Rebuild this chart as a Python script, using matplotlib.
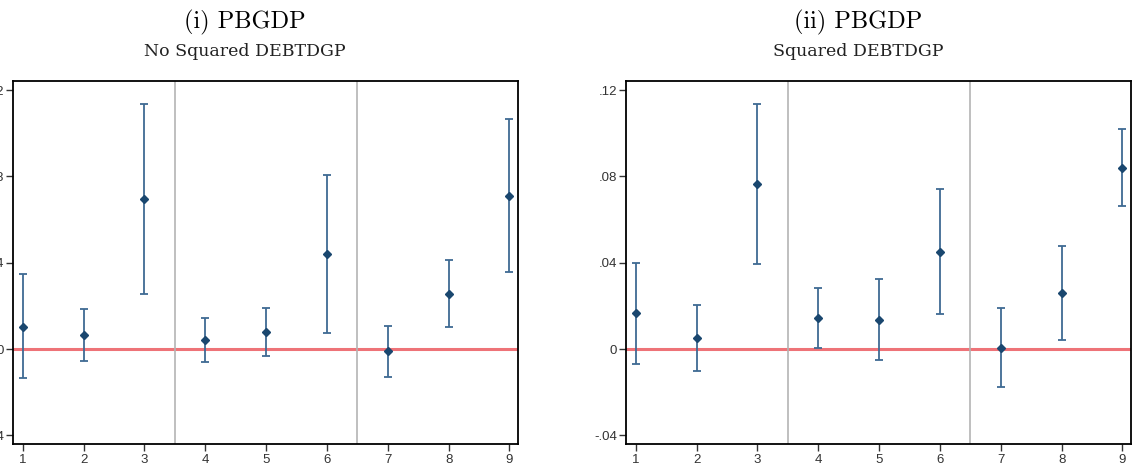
import matplotlib
matplotlib.use("Agg")
import matplotlib.pyplot as plt
import numpy as np

# horizon / specification index
horizons = [1, 2, 3, 4, 5, 6, 7, 8, 9]

# panel (i): no squared DEBTDGP
coef_i = [0.0103, 0.0065, 0.0694, 0.0042, 0.0079, 0.0439, -0.0009, 0.0256, 0.0710]
upper_i = [0.0348, 0.0185, 0.1134, 0.0142, 0.0191, 0.0806, 0.0108, 0.0414, 0.1064]
lower_i = [-0.0136, -0.0056, 0.0253, -0.0059, -0.0032, 0.0074, -0.0128, 0.0100, 0.0358]

# panel (ii): squared DEBTDGP
coef_ii = [0.0165, 0.0049, 0.0763, 0.0142, 0.0134, 0.0449, 0.0006, 0.0258, 0.0840]
upper_ii = [0.0400, 0.0205, 0.1135, 0.0281, 0.0323, 0.0740, 0.0190, 0.0476, 0.1019]
lower_ii = [-0.0071, -0.0102, 0.0392, 0.0003, -0.0051, 0.0164, -0.0176, 0.0040, 0.0663]

titles = ["(i) PBGDP", "(ii) PBGDP"]
subtitles = ["No Squared DEBTDGP", "Squared DEBTDGP"]
ytick_vals = [-0.04, 0, 0.04, 0.08, 0.12]
ytick_labels = ["-.04", "0", ".04", ".08", ".12"]
separators = [3.5, 6.5]

NAVY = "#1a476f"
BAR = "#3f6a93"
RED = "#ee7378"
GRAY = "#b4b4b4"
SERIF = ["cmr10", "DejaVu Serif"]

W, H = 1132, 472
fig = plt.figure(figsize=(W / 100, H / 100), dpi=100)
plt.rcParams["axes.formatter.use_mathtext"] = True

panels = [
    (13, coef_i, upper_i, lower_i),
    (626, coef_ii, upper_ii, lower_ii),
]

for k, (left_px, coef, upper, lower) in enumerate(panels):
    ax = fig.add_axes([left_px / W, 1 - 444 / H, 505 / W, (444 - 81) / H])
    coef = np.array(coef)
    yerr = [coef - np.array(lower), np.array(upper) - coef]

    for s in separators:
        ax.axvline(s, color=GRAY, lw=1.2, zorder=2)
    ax.axhline(0, color=RED, lw=2.2, zorder=1)
    ax.errorbar(horizons, coef, yerr=yerr, fmt="none", ecolor=BAR,
                elinewidth=1.3, capsize=3, capthick=1.3, zorder=3)
    ax.plot(horizons, coef, "D", color=NAVY, ms=4.5, zorder=4)

    ax.set_xlim(0.84, 9.14)
    ax.set_ylim(-0.044, 0.1242)
    ax.set_xticks(horizons)
    ax.set_xticklabels([str(h) for h in horizons])
    ax.set_yticks(ytick_vals)
    ax.set_yticklabels(ytick_labels)
    ax.tick_params(direction="out", length=5, width=1, color="#333333",
                   labelsize=9.5, labelcolor="#333333", pad=1.5)
    ax.tick_params(axis="x", pad=2.5)
    for lab in ax.get_xticklabels() + ax.get_yticklabels():
        lab.set_family(["Liberation Sans", "DejaVu Sans"])
    for sp in ax.spines.values():
        sp.set_linewidth(1.3)
        sp.set_color("black")

    cx = (left_px + 232) / W
    fig.text(cx, 1 - 22 / H, titles[k], ha="center", va="center",
             fontsize=17.5, family=SERIF)
    fig.text(cx, 1 - 52 / H, subtitles[k], ha="center", va="center",
             fontsize=12.5, family=["DejaVu Serif"], color="#222222")

fig.savefig("out.png", dpi=100)
